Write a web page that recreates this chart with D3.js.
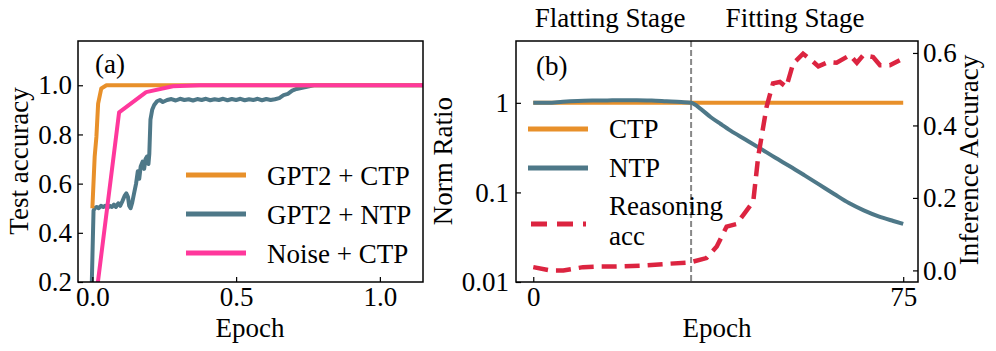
<!DOCTYPE html>
<html lang="en">
<head>
<meta charset="UTF-8">
<title>Test accuracy and norm ratio</title>
<script src="https://cdn.jsdelivr.net/npm/d3@7"></script>
<style>
  body { margin: 0; background: #fff; }
  text { font-family: "Liberation Serif", "Times New Roman", serif; fill: #000; }
</style>
</head>
<body>
<script>
// ---- panel (a) data ----
const ctpEpoch = [0.0, 0.008, 0.014, 0.02, 0.031, 0.049, 0.3, 0.7, 1.15];
const ctpAcc   = [0.5, 0.71, 0.79, 0.925, 0.987, 1.0, 1.0, 1.0, 1.0];

const noiseEpoch = [0.0, 0.093, 0.187, 0.28, 0.373, 0.467, 0.56, 0.653, 0.747, 0.84, 0.933, 1.027, 1.12, 1.2];
const noiseAcc   = [0.02, 0.89, 0.972, 0.996, 1.0, 1.0, 1.0, 1.0, 1.0, 1.0, 1.0, 1.0, 1.0, 1.0];

const ntpEpoch = [-0.004, 0.004, 0.008, 0.015, 0.022, 0.03, 0.038, 0.045, 0.052, 0.06, 0.068, 0.075,
  0.082, 0.09, 0.097, 0.105, 0.112, 0.118, 0.124, 0.128, 0.133, 0.138, 0.145, 0.152, 0.158, 0.163,
  0.168, 0.175, 0.18, 0.185, 0.19, 0.195, 0.198, 0.202, 0.208, 0.215, 0.225, 0.235, 0.245, 0.26,
  0.275, 0.29, 0.305, 0.32, 0.335, 0.35, 0.365, 0.38, 0.395, 0.41, 0.425, 0.44, 0.455, 0.47, 0.485,
  0.5, 0.515, 0.53, 0.545, 0.56, 0.575, 0.59, 0.605, 0.62, 0.635, 0.65, 0.665, 0.68, 0.695, 0.71,
  0.73, 0.75, 0.77, 0.8, 1.15];
const ntpAcc = [0.1, 0.49, 0.5, 0.505, 0.5, 0.51, 0.505, 0.51, 0.5, 0.51, 0.505, 0.515,
  0.505, 0.52, 0.51, 0.53, 0.55, 0.56, 0.545, 0.51, 0.5, 0.52, 0.56, 0.6, 0.65, 0.62,
  0.67, 0.69, 0.66, 0.7, 0.71, 0.68, 0.72, 0.86, 0.9, 0.92, 0.935, 0.94, 0.932, 0.94,
  0.944, 0.938, 0.945, 0.94, 0.943, 0.938, 0.944, 0.94, 0.945, 0.939, 0.943, 0.94, 0.945, 0.939, 0.944,
  0.94, 0.945, 0.939, 0.943, 0.94, 0.945, 0.939, 0.944, 0.94, 0.943, 0.948, 0.96, 0.965, 0.978, 0.985,
  0.99, 0.995, 1.0, 1.0, 1.0];

const legendA = ["GPT2 + CTP", "GPT2 + NTP", "Noise + CTP"];

// ---- panel (b) data ----
const epochB   = [0, 3, 6, 9, 12, 15, 18, 21, 24, 27, 30, 32, 34, 36, 38, 40, 43, 46, 49, 52, 55, 58, 61, 64, 67, 70, 73, 75];
const ctpRatio = [1, 1, 1, 1, 1, 1, 1, 1, 1, 1, 1, 1, 1, 1, 1, 1, 1, 1, 1, 1, 1, 1, 1, 1, 1, 1, 1, 1];
const ntpRatio = [1, 1.0, 1.03, 1.05, 1.06, 1.065, 1.07, 1.07, 1.06, 1.04, 1.02, 1.0, 0.85, 0.69, 0.58, 0.49, 0.39, 0.31, 0.245, 0.196, 0.155, 0.122, 0.096, 0.076, 0.063, 0.054, 0.048, 0.0446];

const reasonEpoch = [0, 3.4, 6.1, 10.1, 13.5, 16.9, 21.6, 27, 31.8, 35.1, 37.2, 39.2, 41.2, 42.6, 44.6,
  45.6, 47.3, 48.6, 50, 51.3, 52.7, 54.7, 56.4, 57.8, 59.8, 61.5, 64.2, 65.6, 66.9, 68.9, 70.3, 72.3, 74.3];
const reasonAcc = [0.009, 0.0, 0.0, 0.009, 0.011, 0.011, 0.013, 0.018, 0.022, 0.034, 0.066, 0.121, 0.128, 0.153, 0.19,
  0.314, 0.451, 0.516, 0.52, 0.506, 0.571, 0.598, 0.58, 0.563, 0.575, 0.573, 0.594, 0.573, 0.594, 0.589, 0.566, 0.566, 0.58];

const legendB = ["CTP", "NTP", "Reasoning", "acc"];
const stageLabels = ["Flatting Stage", "Fitting Stage"];
const stageSplit = 32;

const cOrange = "#e8902a", cTeal = "#4e7888", cPink = "#ff389c", cRed = "#dc2440";
const fs = "27px", tfs = "27px";

const W = 996, H = 351;
const svg = d3.select("body").append("svg").attr("width", W).attr("height", H);
const defs = svg.append("defs");

function zip(xs, ys) { return xs.map((x, i) => [x, ys[i]]); }

function styleAxis(g) {
  g.select(".domain").remove();
  g.selectAll("text").style("font-size", tfs).style("font-family", "Liberation Serif");
  g.selectAll("line").attr("stroke", "#000").attr("stroke-width", 1.2);
}

// ================= panel (a) =================
const a = { l: 78, r: 423, t: 41, b: 282 };
const xA = d3.scaleLinear().domain([-0.05, 1.15]).range([a.l, a.r]);
const yA = d3.scaleLinear().domain([0.2, 1.18]).range([a.b, a.t]);

defs.append("clipPath").attr("id", "clipA").append("rect")
  .attr("x", a.l).attr("y", a.t).attr("width", a.r - a.l).attr("height", a.b - a.t);

const lineA = d3.line().x(d => xA(d[0])).y(d => yA(d[1]));
const gA = svg.append("g").attr("clip-path", "url(#clipA)");
gA.append("path").datum(zip(ntpEpoch, ntpAcc)).attr("d", lineA)
  .attr("fill", "none").attr("stroke", cTeal).attr("stroke-width", 4).attr("stroke-linejoin", "round");
gA.append("path").datum(zip(ctpEpoch, ctpAcc)).attr("d", lineA)
  .attr("fill", "none").attr("stroke", cOrange).attr("stroke-width", 4).attr("stroke-linejoin", "round");
gA.append("path").datum(zip(noiseEpoch, noiseAcc)).attr("d", lineA)
  .attr("fill", "none").attr("stroke", cPink).attr("stroke-width", 4).attr("stroke-linejoin", "round");

// axes (inward ticks)
styleAxis(svg.append("g").attr("transform", `translate(0,${a.b})`)
  .call(d3.axisBottom(xA).tickValues([0, 0.5, 1.0]).tickFormat(d3.format(".1f")).tickSizeInner(-5).tickSizeOuter(0).tickPadding(5)));
styleAxis(svg.append("g").attr("transform", `translate(${a.l},0)`)
  .call(d3.axisLeft(yA).tickValues([0.2, 0.4, 0.6, 0.8, 1.0]).tickFormat(d3.format(".1f")).tickSizeInner(-5).tickSizeOuter(0).tickPadding(6)));
svg.append("rect").attr("x", a.l).attr("y", a.t).attr("width", a.r - a.l).attr("height", a.b - a.t)
  .attr("fill", "none").attr("stroke", "#000").attr("stroke-width", 1.5);

svg.append("text").attr("x", 95).attr("y", 73).style("font-size", fs).text("(a)");
svg.append("text").attr("x", 250).attr("y", 337).attr("text-anchor", "middle").style("font-size", fs).text("Epoch");
svg.append("text").attr("transform", "translate(28,161) rotate(-90)").attr("text-anchor", "middle")
  .style("font-size", fs).text("Test accuracy");

// legend (a)
const legAColors = [cOrange, cTeal, cPink];
legendA.forEach((name, i) => {
  const y = 175 + i * 39;
  svg.append("line").attr("x1", 186).attr("x2", 246).attr("y1", y).attr("y2", y)
    .attr("stroke", legAColors[i]).attr("stroke-width", 5);
  svg.append("text").attr("x", 267).attr("y", y + 10).style("font-size", fs).text(name);
});

// ================= panel (b) =================
const b = { l: 516, r: 918, t: 41, b: 282 };
const xB = d3.scaleLinear().domain([-3.5, 78]).range([b.l, b.r]);
const yB = d3.scaleLog().domain([0.01, 4.9]).range([b.b, b.t]);
const yR = d3.scaleLinear().domain([-0.032, 0.633]).range([b.b, b.t]);

defs.append("clipPath").attr("id", "clipB").append("rect")
  .attr("x", b.l).attr("y", b.t).attr("width", b.r - b.l).attr("height", b.b - b.t);
const gB = svg.append("g").attr("clip-path", "url(#clipB)");

const lineB = d3.line().x(d => xB(d[0])).y(d => yB(d[1])).curve(d3.curveMonotoneX);
const lineR = d3.line().x(d => xB(d[0])).y(d => yR(d[1]));

gB.append("line").attr("x1", xB(stageSplit)).attr("x2", xB(stageSplit)).attr("y1", b.t).attr("y2", b.b)
  .attr("stroke", "#888").attr("stroke-width", 2).attr("stroke-dasharray", "6,3");
gB.append("path").datum(zip(epochB, ctpRatio)).attr("d", lineB)
  .attr("fill", "none").attr("stroke", cOrange).attr("stroke-width", 4);
gB.append("path").datum(zip(epochB, ntpRatio)).attr("d", lineB)
  .attr("fill", "none").attr("stroke", cTeal).attr("stroke-width", 4);
gB.append("path").datum(zip(reasonEpoch, reasonAcc)).attr("d", lineR)
  .attr("fill", "none").attr("stroke", cRed).attr("stroke-width", 4.5).attr("stroke-dasharray", "15,8");

styleAxis(svg.append("g").attr("transform", `translate(0,${b.b})`)
  .call(d3.axisBottom(xB).tickValues([0, 75]).tickSizeInner(-5).tickSizeOuter(0).tickPadding(5)));
styleAxis(svg.append("g").attr("transform", `translate(${b.l},0)`)
  .call(d3.axisLeft(yB).tickValues([0.01, 0.1, 1]).tickFormat(d => d3.format("")(d)).tickSizeInner(-5).tickSizeOuter(0).tickPadding(7)));
styleAxis(svg.append("g").attr("transform", `translate(${b.r},0)`)
  .call(d3.axisRight(yR).tickValues([0, 0.2, 0.4, 0.6]).tickFormat(d3.format(".1f")).tickSizeInner(-5).tickSizeOuter(0).tickPadding(5)));
svg.append("rect").attr("x", b.l).attr("y", b.t).attr("width", b.r - b.l).attr("height", b.b - b.t)
  .attr("fill", "none").attr("stroke", "#000").attr("stroke-width", 1.5);

svg.append("text").attr("x", 536).attr("y", 75).style("font-size", fs).text("(b)");
svg.append("text").attr("x", 717).attr("y", 337).attr("text-anchor", "middle").style("font-size", fs).text("Epoch");
svg.append("text").attr("transform", "translate(452,161) rotate(-90)").attr("text-anchor", "middle")
  .style("font-size", fs).text("Norm Ratio");
svg.append("text").attr("transform", "translate(978,160) rotate(-90)").attr("text-anchor", "middle")
  .style("font-size", fs).text("Inference Accuracy");

svg.append("text").attr("x", 610).attr("y", 27).attr("text-anchor", "middle").style("font-size", fs).text(stageLabels[0]);
svg.append("text").attr("x", 795).attr("y", 27).attr("text-anchor", "middle").style("font-size", fs).text(stageLabels[1]);

// legend (b)
svg.append("line").attr("x1", 528).attr("x2", 588).attr("y1", 129).attr("y2", 129).attr("stroke", cOrange).attr("stroke-width", 5);
svg.append("text").attr("x", 609).attr("y", 138).style("font-size", fs).text(legendB[0]);
svg.append("line").attr("x1", 528).attr("x2", 588).attr("y1", 168).attr("y2", 168).attr("stroke", cTeal).attr("stroke-width", 5);
svg.append("text").attr("x", 609).attr("y", 177).style("font-size", fs).text(legendB[1]);
svg.append("line").attr("x1", 531).attr("x2", 586).attr("y1", 224).attr("y2", 224).attr("stroke", cRed).attr("stroke-width", 5)
  .attr("stroke-dasharray", "16,10");
svg.append("text").attr("x", 609).attr("y", 215).style("font-size", fs).text(legendB[2]);
svg.append("text").attr("x", 609).attr("y", 245).style("font-size", fs).text(legendB[3]);
</script>
</body>
</html>
